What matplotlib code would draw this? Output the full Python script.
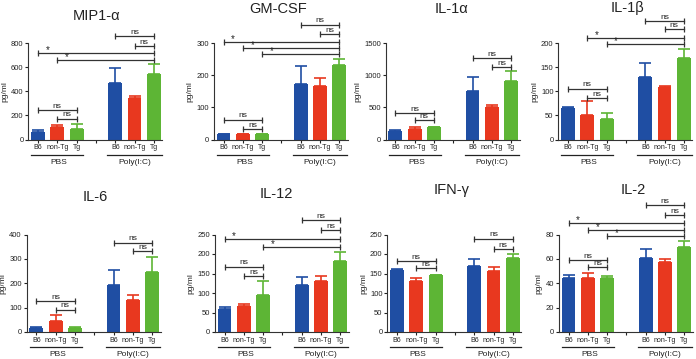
import numpy as np
import matplotlib
matplotlib.use('Agg')
import matplotlib.pyplot as plt
from matplotlib.transforms import offset_copy

plt.rcParams['font.family'] = ['Liberation Sans', 'DejaVu Sans']

# ===== Data (pg/ml), order: PBS B6, non-Tg, Tg, Poly(I:C) B6, non-Tg, Tg =====
strains = ['B6', 'non-Tg', 'Tg']
groups = ['PBS', 'Poly(I:C)']
titles = ['MIP1-α', 'GM-CSF', 'IL-1α', 'IL-1β', 'IL-6', 'IL-12', 'IFN-γ', 'IL-2']

mip1a_mean = [63, 102, 86, 466, 342, 546]
mip1a_err = [17, 17, 41, 130, 19, 77]
gmcsf_mean = [16, 16, 16, 173, 166, 233]
gmcsf_err = [1, 1, 1, 54, 24, 16]
il1a_mean = [139, 170, 190, 758, 500, 912]
il1a_err = [10, 20, 6, 216, 31, 160]
il1b_mean = [65, 51, 42, 130, 109, 168]
il1b_err = [2, 28, 13, 28, 2, 19]
il6_mean = [18, 44, 18, 193, 131, 247]
il6_err = [1, 27, 1, 63, 19, 61]
il12_mean = [58, 67, 95, 121, 131, 182]
il12_err = [6, 5, 36, 19, 12, 23]
ifng_mean = [159, 130, 145, 170, 156, 191]
ifng_err = [3, 8, 1, 16, 10, 8]
il2_mean = [44.7, 44.7, 43.9, 61, 57.8, 70]
il2_err = [1.7, 3.6, 1.9, 6.8, 2.4, 4.6]

# y axis limits / tick step
ymax = [800, 300, 1500, 200, 400, 250, 250, 80]
ystep = [200, 100, 500, 50, 100, 50, 50, 20]

# significance brackets: (bar i, bar j, height, label)
mip1a_sig = [(0, 2, 243, 'ns'), (1, 2, 174, 'ns'), (3, 5, 858, 'ns'), (4, 5, 775, 'ns'),
             (0, 5, 720, '*'), (1, 5, 657, '*')]
gmcsf_sig = [(0, 2, 62, 'ns'), (1, 2, 32, 'ns'), (3, 5, 357, 'ns'), (4, 5, 328, 'ns'),
             (0, 5, 303, '*'), (1, 5, 286, '*'), (2, 5, 267, '*')]
il1a_sig = [(0, 2, 407, 'ns'), (1, 2, 304, 'ns'), (3, 5, 1268, 'ns'), (4, 5, 1124, 'ns')]
il1b_sig = [(0, 2, 105, 'ns'), (1, 2, 86, 'ns'), (3, 5, 245, 'ns'), (4, 5, 228, 'ns'),
            (1, 5, 210, '*'), (2, 5, 198, '*')]
il6_sig = [(0, 2, 126, 'ns'), (1, 2, 92, 'ns'), (3, 5, 367, 'ns'), (4, 5, 331, 'ns')]
il12_sig = [(0, 2, 167, 'ns'), (1, 2, 143, 'ns'), (3, 5, 287, 'ns'), (4, 5, 261, 'ns'),
            (0, 5, 238, '*'), (2, 5, 219, '*')]
ifng_sig = [(0, 2, 182, 'ns'), (1, 2, 163, 'ns'), (3, 5, 239, 'ns'), (4, 5, 213, 'ns')]
il2_sig = [(0, 2, 59, 'ns'), (1, 2, 53, 'ns'), (3, 5, 104, 'ns'), (4, 5, 96, 'ns'),
           (0, 5, 89.5, '*'), (1, 5, 84, '*'), (2, 5, 78.6, '*')]

means = [mip1a_mean, gmcsf_mean, il1a_mean, il1b_mean, il6_mean, il12_mean, ifng_mean, il2_mean]
errs = [mip1a_err, gmcsf_err, il1a_err, il1b_err, il6_err, il12_err, ifng_err, il2_err]
sigs = [mip1a_sig, gmcsf_sig, il1a_sig, il1b_sig, il6_sig, il12_sig, ifng_sig, il2_sig]

# ===== Layout (pixels) =====
W, H = 696, 359
colors = ['#1f4ea3', '#e8381f', '#5db535']
xpos = [0, 1, 2, 4, 5, 6]
spacing = 19.3
b6_center = [38, 223.5, 395.3, 568, 36.3, 224.5, 397, 568.5]
row_top = [43, 234.5]
row_bot = [139.5, 332]
title_x = [97, 278, 452, 627, 95, 276, 452, 633]
title_y = [20, 13, 13, 12, 200.7, 198.3, 194, 194]
txt = '#222222'

fig = plt.figure(figsize=(W / 100, H / 100), dpi=100)

for k in range(8):
    r = k // 4
    left = (b6_center[k] - 0.5 * spacing) / W
    width = 6.95 * spacing / W
    bottom = 1 - row_bot[r] / H
    height = (row_bot[r] - row_top[r]) / H
    ax = fig.add_axes([left, bottom, width, height])

    for i in range(6):
        c = colors[i % 3]
        ax.errorbar(xpos[i], means[k][i], yerr=[[0], [errs[k][i]]], fmt='none',
                    ecolor=c, elinewidth=1.2, capsize=4.5, capthick=1.2, zorder=1)
        ax.bar(xpos[i], means[k][i], width=0.72, color=c, zorder=2)

    ax.set_xlim(-0.5, 6.45)
    ax.set_ylim(0, ymax[k])
    ax.set_yticks(np.arange(0, ymax[k] + 1, ystep[k]))
    ax.set_xticks(range(7))
    ax.set_xticklabels(strains + [''] + strains)
    ax.tick_params(axis='both', labelsize=5.5, length=2.5, width=0.8, pad=1, colors=txt)
    ax.tick_params(axis='x', labelsize=5)
    ax.spines['top'].set_visible(False)
    ax.spines['right'].set_visible(False)
    for s in ['left', 'bottom']:
        ax.spines[s].set_linewidth(0.8)
        ax.spines[s].set_color('#333333')
    ax.set_ylabel('pg/ml', fontsize=6, labelpad=2, color=txt)

    # group underline + labels
    tr = ax.get_xaxis_transform()
    line_tr = offset_copy(tr, fig=fig, y=-15, units='dots')
    lab_tr = offset_copy(tr, fig=fig, y=-22.5, units='dots')
    ax.plot([-0.35, 2.35], [0, 0], color='#222222', lw=0.9, transform=line_tr, clip_on=False)
    ax.plot([3.6, 6.4], [0, 0], color='#222222', lw=0.9, transform=line_tr, clip_on=False)
    ax.text(1.1, 0, groups[0], transform=lab_tr, ha='center', va='center', fontsize=6, color=txt)
    ax.text(5.0, 0, groups[1], transform=lab_tr, ha='center', va='center', fontsize=6, color=txt)

    # significance brackets
    for (a, b, y, lab) in sigs[k]:
        x1, x2 = xpos[a], xpos[b]
        ax.plot([x1, x2], [y, y], color='#333333', lw=0.9, marker='|', markersize=5,
                mew=0.9, clip_on=False, zorder=3)
        if lab == 'ns':
            ax.annotate(lab, ((x1 + x2) / 2, y), xytext=(0, 0.3), textcoords='offset points',
                        ha='center', va='bottom', fontsize=6, color=txt, annotation_clip=False)
        else:
            ax.annotate(lab, (x1 + 0.5, y), xytext=(0, -1.5), textcoords='offset points',
                        ha='center', va='bottom', fontsize=7, color=txt, annotation_clip=False)

    fig.text(title_x[k] / W, 1 - title_y[k] / H, titles[k], ha='center', va='baseline',
             fontsize=10.5, color=txt)

fig.savefig('out.png', dpi=100)
